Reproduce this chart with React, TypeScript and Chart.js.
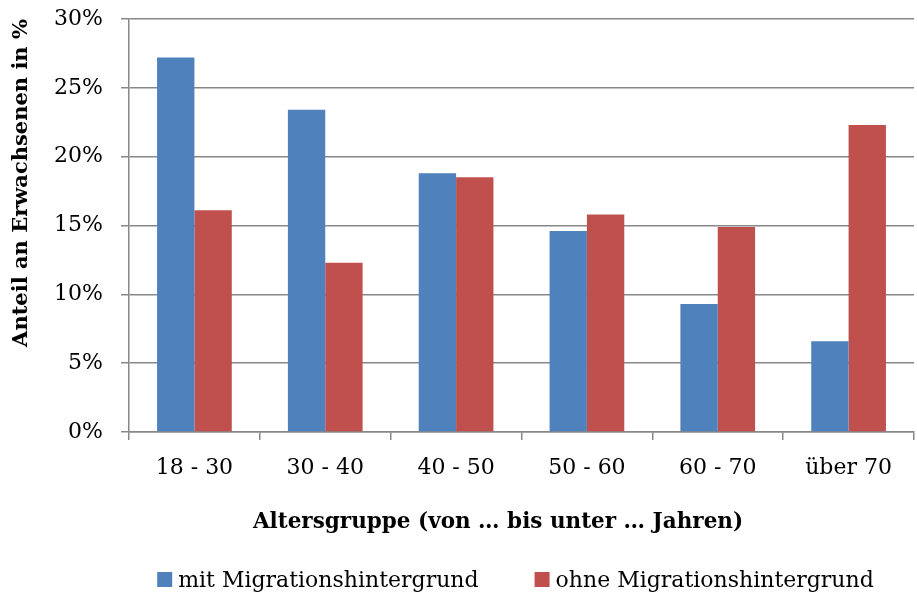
import React, { useEffect, useRef } from 'react';
import { Chart, registerables } from 'chart.js';

Chart.register(...registerables);

const categories = ['18 - 30', '30 - 40', '40 - 50', '50 - 60', '60 - 70', 'über 70'];
const mitMigration = [27.2, 23.4, 18.8, 14.6, 9.3, 6.6];
const ohneMigration = [16.1, 12.3, 18.5, 15.8, 14.9, 22.3];
const seriesLabels = ['mit Migrationshintergrund', 'ohne Migrationshintergrund'];
const seriesColors = ['#4F81BD', '#C0504D'];
const yMin = 0;
const yMax = 30;
const yStep = 5;
const xTitle = 'Altersgruppe (von … bis unter … Jahren)';
const yTitle = 'Anteil an Erwachsenen in %';

const FONT = '"DejaVu Serif", "Liberation Serif", serif';
const GRID = '#888888';

const textPlugin = {
  id: 'customTexts',
  afterDraw(chart: any) {
    const ctx = chart.ctx as CanvasRenderingContext2D;
    ctx.save();
    ctx.fillStyle = '#000';

    // x-axis title
    ctx.font = `bold 21.5px ${FONT}`;
    ctx.textAlign = 'center';
    ctx.textBaseline = 'alphabetic';
    ctx.fillText(xTitle, 498, 528);

    // y-axis title
    ctx.save();
    ctx.font = `bold 21px ${FONT}`;
    ctx.translate(27, 183);
    ctx.rotate(-Math.PI / 2);
    ctx.fillText(yTitle, 0, 0);
    ctx.restore();

    // legend
    ctx.font = `22px ${FONT}`;
    ctx.textAlign = 'left';
    const box = 15;
    const gapBoxText = 6;
    const gapItems = 56;
    const widths = chart.data.datasets.map((d: any) => ctx.measureText(d.label).width);
    let total = 0;
    widths.forEach((w: number, i: number) => {
      total += box + gapBoxText + w + (i < widths.length - 1 ? gapItems : 0);
    });
    let x = 515.5 - total / 2;
    const baseline = 587;
    chart.data.datasets.forEach((d: any, i: number) => {
      ctx.fillStyle = d.backgroundColor;
      ctx.fillRect(x, baseline - box, box, box);
      ctx.fillStyle = '#000';
      ctx.fillText(d.label, x + box + gapBoxText, baseline);
      x += box + gapBoxText + widths[i] + gapItems;
    });
    ctx.restore();
  },
};

export default function App() {
  const canvasRef = useRef<HTMLCanvasElement | null>(null);

  useEffect(() => {
    document.body.style.margin = '0';
    const canvas = canvasRef.current;
    if (!canvas) return;
    const chart = new Chart(canvas, {
      type: 'bar',
      data: {
        labels: categories,
        datasets: [
          {
            label: seriesLabels[0],
            data: mitMigration,
            backgroundColor: seriesColors[0],
            borderWidth: 0,
            categoryPercentage: 0.571,
            barPercentage: 1.0,
          },
          {
            label: seriesLabels[1],
            data: ohneMigration,
            backgroundColor: seriesColors[1],
            borderWidth: 0,
            categoryPercentage: 0.571,
            barPercentage: 1.0,
          },
        ],
      },
      options: {
        responsive: false,
        animation: false,
        devicePixelRatio: 1,
        layout: { padding: { left: 0, right: 3, top: 19, bottom: 0 } },
        plugins: {
          legend: { display: false },
          tooltip: { enabled: false },
          title: { display: false },
        },
        scales: {
          x: {
            ticks: {
              color: '#000',
              font: { family: FONT, size: 22 },
              padding: 15,
              maxRotation: 0,
            },
            grid: {
              display: true,
              drawOnChartArea: false,
              drawTicks: true,
              tickLength: 8,
              color: GRID,
              lineWidth: 1.5,
              offset: true,
            },
            border: { color: GRID, width: 1.5 },
            afterFit: (s: any) => {
              s.height = 162;
            },
          },
          y: {
            min: yMin,
            max: yMax,
            ticks: {
              stepSize: yStep,
              color: '#000',
              font: { family: FONT, size: 22 },
              padding: 18,
              callback: (v: any) => v + '%',
            },
            grid: {
              color: GRID,
              lineWidth: 1.5,
              tickLength: 8,
              drawTicks: true,
            },
            border: { color: GRID, width: 1.5 },
            afterFit: (s: any) => {
              s.width = 129;
              s.paddingTop = 0;
              s.paddingBottom = 0;
            },
          },
        },
      },
      plugins: [textPlugin],
    });
    return () => chart.destroy();
  }, []);

  return (
    <div style={{ width: 917, height: 594, background: '#fff' }}>
      <canvas ref={canvasRef} width={917} height={594} />
    </div>
  );
}
